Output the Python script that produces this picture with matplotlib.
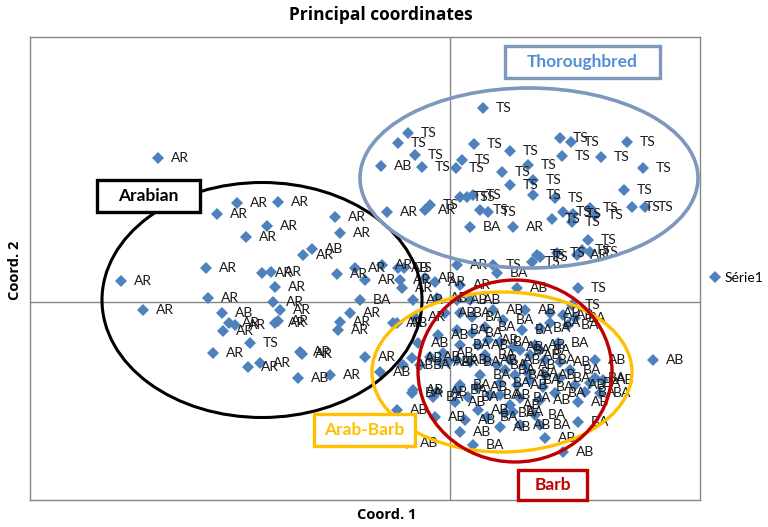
import matplotlib
matplotlib.use("Agg")
import matplotlib.pyplot as plt
from matplotlib.patches import Ellipse, Rectangle
from matplotlib.lines import Line2D

plt.rcParams['font.family'] = ['Lato', 'DejaVu Sans']

# ==========================
# Data (arbitrary principal-coordinate units)
# ==========================
ar_x = [-29.2, -23.3, -21.3, -17.2, -18.3, -20.4, -11.5, -11.0, -14.7, -6.3,
        -2.5, -32.9, -30.7, -24.4, -18.8, -17.9, -17.5, -24.2, -22.1, -21.5,
        -22.7, -23.7, -20.2, -19.0, -17.7, -17.5, -17.2, -17.0, -11.3, -9.5,
        -8.5, -6.8, -5.0, -2.5, -1.5, -10.0, -11.0, -11.2, -15.0, -14.8,
        -12.0, -8.5, -4.8, -3.7, -3.5, -5.7, 3.8, -0.2, 0.7, 1.0, 6.3, 12.7]
ar_y = [14.4, 8.8, 9.9, 10.0, 7.6, 6.5, 8.5, 6.9, 4.7, 9.0,
        9.2, 2.1, -0.8, 3.4, 2.9, 3.0, 1.5, 0.4, -2.1, -2.3,
        -2.9, -5.1, -6.5, -6.1, 0.0, -2.1, -1.9, -0.8, 2.8, 3.4,
        2.2, 3.7, 2.2, 2.4, 2.0, -1.1, -2.0, -2.8, -5.0, -5.2,
        -7.3, -5.5, 1.4, 0.2, -1.5, -2.1, -3.8, -6.0, 3.7, 1.7, 7.5, 4.7]

ab_x = [-13.8, -22.8, -5.2, -6.9, -5.3, -15.2, -7.0, -3.8, -3.2, -3.7,
        -1.3, -0.5, 0.7, 2.0, 4.3, -1.2, 2.8, -0.7, -2.0, 0.7,
        3.7, -1.0, 6.7, 7.5, 10.0, 11.3, 6.3, 11.0, 14.5, 20.3,
        8.5, -4.7, -1.3, 2.7, 2.8, -5.3, -1.5, 1.0, 5.0, -4.3,
        12.8, 6.7, 9.5, 11.3, 15.3, 8.0, 7.5, 6.0, 9.5, 12.5,
        5.0, 9.0, 6.0, 0.5, 1.5, 7.0]
ab_y = [5.3, -1.1, 3.4, 13.6, -2.1, -7.6, -7.0, -5.6, -4.1, -8.8,
        0.4, -1.1, 0.2, 0.2, -0.8, -3.3, -4.3, -5.1, -5.5, -5.8,
        -5.8, -6.0, 1.4, -0.8, -1.1, -1.3, -4.5, -6.0, -5.8, -5.8,
        -4.3, -6.3, -9.0, -8.5, -10.8, -10.8, -11.5, -13.0, -12.5, -14.1,
        -10.0, -8.3, -13.6, -15.0, -7.8, -5.3, -6.3, -5.8, -7.3, -8.3,
        -9.3, -9.8, -10.3, -10.0, -11.8, -12.3]

ba_x = [-9.0, -1.7, 1.0, 2.2, 5.3, 3.5, 0.7, 1.0, 2.2, 5.0,
        2.0, 4.7, -3.0, 11.8, 10.0, 7.2, 9.0, 10.8, 12.5, -3.8,
        0.7, 1.0, 1.8, 5.0, 3.7, 5.5, 2.3, 14.0, 14.5, 13.5,
        10.5, 9.3, 7.8, 6.3, 8.5, 12.8, 15.0, 7.0, 9.0, 9.5,
        5.5, 6.5, 8.0, 11.0, 12.0, 7.0, 4.0, 3.0, 3.5, 2.0,
        4.7, 9.0]
ba_y = [0.2, -9.5, -1.1, -1.5, -1.8, -2.5, -2.8, -4.3, -3.1, -4.0,
        -6.0, -6.3, -6.3, -2.3, -2.1, -2.8, -2.6, -4.1, -1.6, -9.1,
        -8.8, -8.3, -9.5, -8.1, -11.5, -11.1, -14.3, -8.1, -7.6, -9.0,
        -9.1, -8.5, -7.1, -11.0, -11.3, -12.0, -9.1, -4.8, -4.8, -5.8,
        -6.8, -7.3, -7.8, -7.6, -6.8, -9.6, -9.3, -7.3, -5.3, 7.5,
        2.9, -12.3]

ts_x = [-2.0, -4.6, -20.0, 3.3, -4.2, -5.2, -3.5, -2.8, 1.2, 0.6,
        2.4, 6.0, 5.2, 6.0, 1.0, 1.7, 2.3, 11.0, 12.1, 17.7,
        11.2, 15.1, 19.3, 7.8, 8.3, 17.4, 8.3, 10.5, 11.3, 12.3,
        14.0, 14.5, 18.2, 19.5, 10.2, 12.2, 13.8, 8.7, 8.2, 9.0,
        10.7, 13.2, 14.0, 3.0, 3.8, 4.3, 12.8, 12.2]
ts_y = [9.7, 3.4, -4.1, 19.4, 16.9, 15.9, 14.7, 13.5, 14.2, 13.4,
        15.8, 15.1, 13.0, 11.7, 10.5, 10.5, 10.7, 16.4, 16.0, 16.0,
        14.6, 14.5, 13.4, 13.7, 12.2, 11.2, 10.7, 10.4, 9.0, 8.8,
        9.4, 8.7, 9.5, 9.5, 8.3, 8.0, 6.2, 4.7, 4.0, 4.5,
        4.9, 5.2, 5.0, 9.2, 9.0, 3.7, 1.4, -0.3]

groups = [("AR", ar_x, ar_y), ("AB", ab_x, ab_y),
          ("BA", ba_x, ba_y), ("TS", ts_x, ts_y)]

# ==========================
# Figure
# ==========================
fig = plt.figure(figsize=(7.68, 5.27), dpi=100)
ax = fig.add_axes([30 / 768, 27 / 527, 670 / 768, 463 / 527])

blue = '#4F81BD'
for name, xs, ys in groups:
    ax.plot(xs, ys, linestyle='none', marker='D', markersize=6,
            color=blue, markeredgewidth=0, zorder=3)
    for x, y in zip(xs, ys):
        ax.annotate(name, (x, y), xytext=(9, 0), textcoords='offset points',
                    ha='left', va='center', fontsize=10, color='#1a1a1a',
                    zorder=4)

# axis cross lines
ax.axhline(0, color='#868686', lw=1, zorder=1)
ax.axvline(0, color='#868686', lw=1, zorder=1)

ax.set_xlim(-42, 25)
ax.set_ylim(-19.8, 26.5)
ax.set_xticks([])
ax.set_yticks([])
for s in ax.spines.values():
    s.set_color('#868686')
    s.set_linewidth(1)

# group ellipses
ax.add_patch(Ellipse((-18.8, 0.2), 32.0, 23.5, fill=False,
                     edgecolor='black', lw=2.2, zorder=5))
ax.add_patch(Ellipse((7.9, 12.4), 33.8, 18.0, fill=False,
                     edgecolor='#7E97BC', lw=2.6, zorder=5))
ax.add_patch(Ellipse((5.2, -7.0), 26.0, 16.0, fill=False,
                     edgecolor='#FFC000', lw=2.4, zorder=5))
ax.add_patch(Ellipse((6.5, -6.9), 19.4, 18.2, fill=False,
                     edgecolor='#C00000', lw=2.4, zorder=5))

# group name boxes
boxes = [("Arabian", -35.3, 9.0, 10.3, 3.2, 'black', 'black'),
         ("Thoroughbred", 5.5, 22.4, 15.5, 3.2, '#7E97BC', '#558ED5'),
         ("Arab-Barb", -13.6, -14.4, 10.1, 3.2, '#FFC000', '#FFC000'),
         ("Barb", 6.8, -19.8, 6.9, 3.0, '#C00000', '#C00000')]
for txt, bx, by, bw, bh, ec, tc in boxes:
    ax.add_patch(Rectangle((bx, by), bw, bh, facecolor='white', edgecolor=ec,
                           lw=2.4, zorder=6, clip_on=False))
    ax.text(bx + bw / 2, by + bh / 2, txt, ha='center', va='center',
            fontsize=12.5, fontweight='bold', color=tc, zorder=7)

# titles
fig.text(381 / 768, 1 - 15 / 527, "Principal coordinates", ha='center',
         va='center', fontsize=12.5, fontweight='bold', family='Open Sans')
fig.text(387 / 768, 1 - 515 / 527, "Coord. 1", ha='center', va='center',
         fontsize=10.5, fontweight='bold', family='Open Sans')
fig.text(15 / 768, 1 - 270 / 527, "Coord. 2", ha='center', va='center',
         fontsize=10.5, fontweight='bold', rotation=90, family='Open Sans')

# legend
handle = Line2D([], [], linestyle='none', marker='D', markersize=6,
                color=blue, markeredgewidth=0)
ax.legend([handle], ["Série1"], loc='center left',
          bbox_to_anchor=(697 / 768, 1 - 278 / 527),
          bbox_transform=fig.transFigure, frameon=False,
          handlelength=0.8, handletextpad=0.3, fontsize=10)

plt.savefig("out.png", dpi=100)
